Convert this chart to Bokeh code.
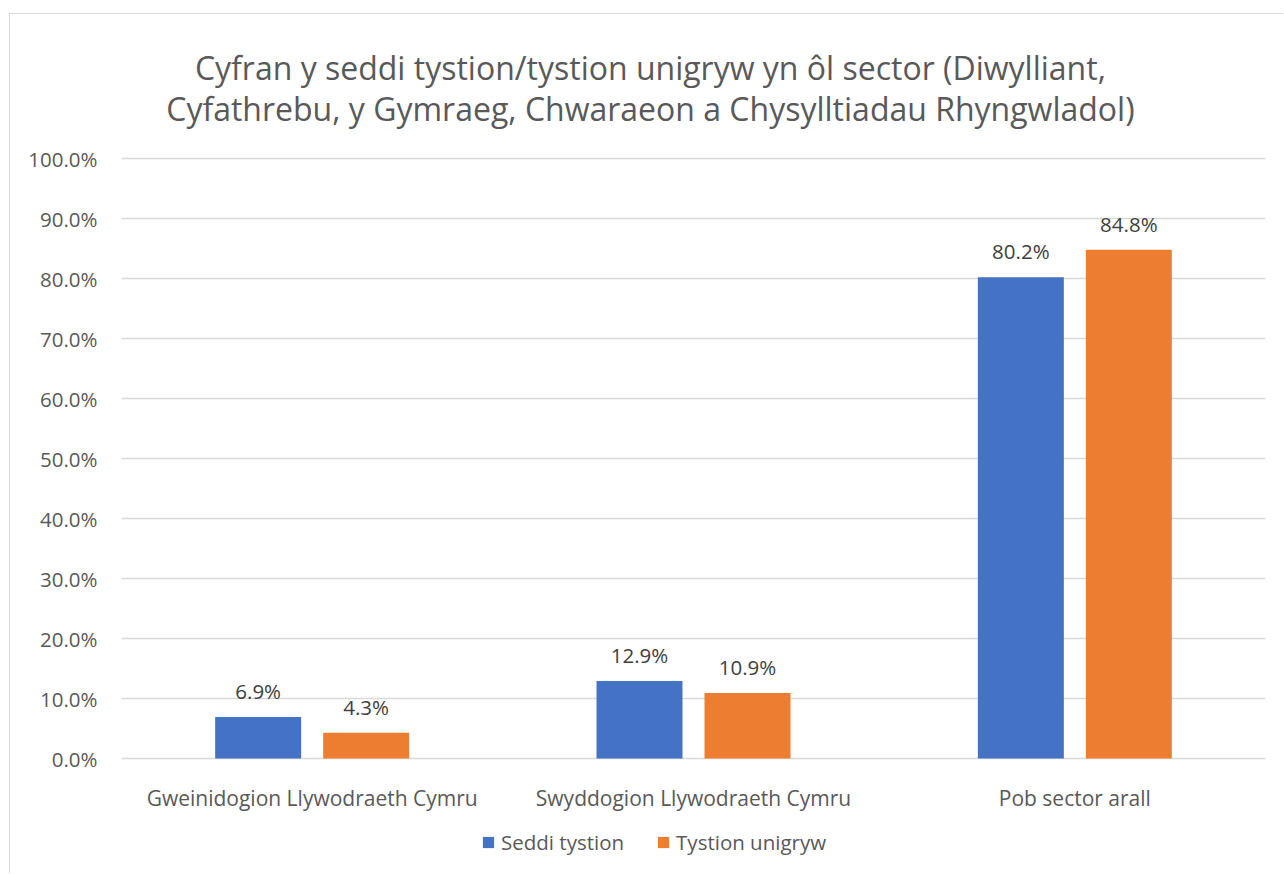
from bokeh.plotting import figure
from bokeh.models import (ColumnDataSource, FactorRange, Range1d, LabelSet, Label,
                          Legend, LegendItem, PrintfTickFormatter, FixedTicker)
from bokeh.transform import dodge
from bokeh.core.properties import value
from bokeh.embed import file_html
from bokeh.resources import INLINE

# ---- data ----
categories = ["Gweinidogion Llywodraeth Cymru", "Swyddogion Llywodraeth Cymru", "Pob sector arall"]
seddi_tystion = [6.9, 12.9, 80.2]
tystion_unigryw = [4.3, 10.9, 84.8]
series_names = ["Seddi tystion", "Tystion unigryw"]
y_ticks = [0, 10, 20, 30, 40, 50, 60, 70, 80, 90, 100]
title_lines = ["Cyfran y seddi tystion/tystion unigryw yn ôl sector (Diwylliant,",
               "Cyfathrebu, y Gymraeg, Chwaraeon a Chysylltiadau Rhyngwladol)"]

BLUE = "#4472C4"
ORANGE = "#ED7D31"
TEXT = "#595959"
GRID = "#D9D9D9"
FONT = "Open Sans"

src = ColumnDataSource(dict(
    cat=categories,
    s1=seddi_tystion,
    s2=tystion_unigryw,
    l1=[f"{v:.1f}%" for v in seddi_tystion],
    l2=[f"{v:.1f}%" for v in tystion_unigryw],
    ylab=[-6.5] * len(categories),
))

# canvas placed at page (10,14) via margin + 1px border; 6 px per percentage point
W, H = 1274, 860
p = figure(width=W, height=H, output_backend="svg", toolbar_location=None,
           x_range=FactorRange(*categories, range_padding=0),
           y_range=Range1d(-116 / 6, 744 / 6),
           min_border_left=111, min_border_right=19, min_border_top=0, min_border_bottom=0)
p.styles = {"margin-left": "9px", "margin-top": "13px",
            "border-left": "1px solid #D9D9D9", "border-top": "1px solid #D9D9D9"}
p.outline_line_color = None
p.background_fill_color = "white"
p.border_fill_color = "white"

off = 0.1416
bw = 0.2255
r1 = p.vbar(x=dodge("cat", -off, range=p.x_range), top="s1", width=bw, source=src,
            fill_color=BLUE, line_color=None)
r2 = p.vbar(x=dodge("cat", off, range=p.x_range), top="s2", width=bw, source=src,
            fill_color=ORANGE, line_color=None)

for xcol, ycol, lab in [(-off, "s1", "l1"), (off, "s2", "l2")]:
    ls = LabelSet(x=dodge("cat", xcol, range=p.x_range), y=ycol, text=lab, source=src,
                  text_align="center", text_baseline="bottom", y_offset=12,
                  text_font=value(FONT), text_font_size="20.5px", text_color="#404040")
    p.add_layout(ls)

# category labels (below the 0% line)
p.text(x="cat", y="ylab", text="cat", source=src, text_align="center",
       text_baseline="alphabetic", text_font=value(FONT), text_font_size="21px",
       text_color=TEXT)

# y axis
p.yaxis.ticker = FixedTicker(ticks=y_ticks)
p.yaxis.formatter = PrintfTickFormatter(format="%.1f%%")
p.yaxis.axis_line_color = None
p.yaxis.major_tick_line_color = None
p.yaxis.minor_tick_line_color = None
p.yaxis.major_tick_in = 0
p.yaxis.major_tick_out = 0
p.yaxis.major_label_standoff = 24
p.yaxis.major_label_text_font = FONT
p.yaxis.major_label_text_font_size = "20.5px"
p.yaxis.major_label_text_color = TEXT
p.xaxis.visible = False

p.xgrid.grid_line_color = None
p.ygrid.grid_line_color = GRID
p.ygrid.grid_line_width = 1.3

# title (two lines, baselines)
for t, yy in zip(title_lines, [115.2, 108.3]):
    p.add_layout(Label(x=1.387, y=yy, text=t, text_align="center", text_baseline="alphabetic",
                       text_font=FONT, text_font_size="32px", text_color=TEXT))

legend = Legend(items=[LegendItem(label=series_names[0], renderers=[r1]),
                       LegendItem(label=series_names[1], renderers=[r2])],
                orientation="horizontal", location=(360, 18),
                glyph_width=14, glyph_height=14, label_standoff=6, spacing=32,
                label_height=14,
                label_text_font=FONT, label_text_font_size="20.5px", label_text_color=TEXT,
                border_line_color=None, background_fill_alpha=0, margin=0, padding=0)
p.add_layout(legend, "center")

open("out.html", "w").write(file_html(p, INLINE))
